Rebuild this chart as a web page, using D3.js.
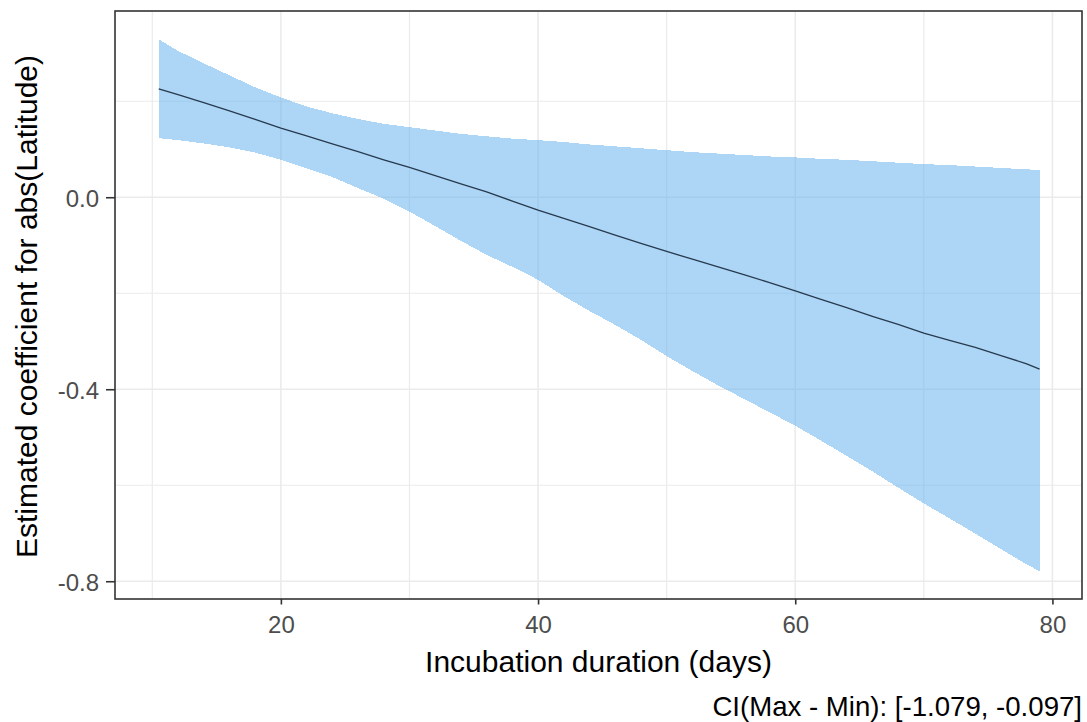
<!DOCTYPE html>
<html>
<head>
<meta charset="utf-8">
<script src="https://cdn.jsdelivr.net/npm/d3@7"></script>
<style>
  html, body { margin: 0; padding: 0; background: #ffffff; }
  svg { display: block; font-family: "Liberation Sans", Arial, sans-serif; }
</style>
</head>
<body>
<svg id="chart" width="1087" height="722"></svg>
<script>
// Incubation duration (days) at which the varying coefficient was evaluated
const days = [10.5, 12, 14, 16, 18, 20, 22, 24, 26, 28, 30, 32, 34, 36, 38, 40, 42, 44,
  46, 48, 50, 52, 54, 56, 58, 60, 62, 64, 66, 68, 70, 72, 74, 76, 78, 79];

// Point estimate of the abs(Latitude) coefficient
const estimate = [0.226, 0.214, 0.197, 0.180, 0.162, 0.144, 0.128, 0.111, 0.095, 0.078,
  0.062, 0.045, 0.028, 0.011, -0.008, -0.027, -0.044, -0.061, -0.079, -0.096, -0.113,
  -0.129, -0.145, -0.161, -0.178, -0.195, -0.213, -0.230, -0.248, -0.265, -0.283,
  -0.298, -0.313, -0.330, -0.347, -0.358];

// Upper and lower bounds of the confidence band
const upper = [0.329, 0.305, 0.279, 0.254, 0.229, 0.208, 0.189, 0.175, 0.163, 0.153,
  0.146, 0.139, 0.132, 0.127, 0.122, 0.119, 0.115, 0.110, 0.106, 0.102, 0.098, 0.094,
  0.091, 0.088, 0.085, 0.083, 0.080, 0.078, 0.075, 0.072, 0.069, 0.067, 0.064, 0.061,
  0.058, 0.057];
const lower = [0.123, 0.119, 0.112, 0.104, 0.093, 0.078, 0.060, 0.042, 0.019, -0.003,
  -0.030, -0.060, -0.091, -0.120, -0.145, -0.172, -0.206, -0.237, -0.266, -0.297, -0.331,
  -0.362, -0.392, -0.420, -0.448, -0.476, -0.507, -0.539, -0.571, -0.605, -0.638,
  -0.669, -0.701, -0.733, -0.765, -0.779];

// Axis limits, breaks and labels
const xLimits = [7.1, 82.3];
const yLimits = [-0.837, 0.388];
const xMajor = [20, 40, 60, 80];
const xMinor = [10, 30, 50, 70];
const yMajor = [-0.8, -0.4, 0.0];
const yMinor = [-0.6, -0.2, 0.2];
const yTickLabels = ["-0.8", "-0.4", "0.0"];

const xTitle = "Incubation duration (days)";
const yTitle = "Estimated coefficient for abs(Latitude)";
const caption = "CI(Max - Min): [-1.079, -0.097]";

const panel = { left: 115, right: 1082, top: 11, bottom: 599 };

const svg = d3.select("#chart");

const x = d3.scaleLinear().domain(xLimits).range([panel.left, panel.right]);
const y = d3.scaleLinear().domain(yLimits).range([panel.bottom, panel.top]);

const rows = days.map((d, i) => ({ d, est: estimate[i], lo: lower[i], hi: upper[i] }));

// Grid
const grid = svg.append("g");
grid.selectAll("line.xminor").data(xMinor).join("line")
  .attr("x1", d => x(d)).attr("x2", d => x(d))
  .attr("y1", panel.top).attr("y2", panel.bottom)
  .attr("stroke", "#ebebeb").attr("stroke-width", 1.2);
grid.selectAll("line.yminor").data(yMinor).join("line")
  .attr("y1", d => y(d)).attr("y2", d => y(d))
  .attr("x1", panel.left).attr("x2", panel.right)
  .attr("stroke", "#ebebeb").attr("stroke-width", 1.2);
grid.selectAll("line.xmajor").data(xMajor).join("line")
  .attr("x1", d => x(d)).attr("x2", d => x(d))
  .attr("y1", panel.top).attr("y2", panel.bottom)
  .attr("stroke", "#ebebeb").attr("stroke-width", 1.6);
grid.selectAll("line.ymajor").data(yMajor).join("line")
  .attr("y1", d => y(d)).attr("y2", d => y(d))
  .attr("x1", panel.left).attr("x2", panel.right)
  .attr("stroke", "#ebebeb").attr("stroke-width", 1.6);

// Confidence ribbon
const area = d3.area()
  .x(r => x(r.d))
  .y0(r => y(r.lo))
  .y1(r => y(r.hi));
svg.append("path")
  .datum(rows)
  .attr("d", area)
  .attr("fill", "#5cacee")
  .attr("fill-opacity", 0.5)
  .attr("shape-rendering", "crispEdges");

// Estimate line
const line = d3.line().x(r => x(r.d)).y(r => y(r.est));
svg.append("path")
  .datum(rows)
  .attr("d", line)
  .attr("fill", "none")
  .attr("stroke", "#263a4e")
  .attr("stroke-width", 1.3);

// Panel border
svg.append("rect")
  .attr("x", panel.left).attr("y", panel.top)
  .attr("width", panel.right - panel.left)
  .attr("height", panel.bottom - panel.top)
  .attr("fill", "none")
  .attr("stroke", "#333333")
  .attr("stroke-width", 1.6);

// Axes
const xAxis = d3.axisBottom(x)
  .tickValues(xMajor)
  .tickSize(5.5)
  .tickPadding(6)
  .tickFormat(d3.format("d"));
const gx = svg.append("g")
  .attr("transform", `translate(0,${panel.bottom})`)
  .call(xAxis);

const yAxis = d3.axisLeft(y)
  .tickValues(yMajor)
  .tickSize(9)
  .tickPadding(6)
  .tickFormat((d, i) => yTickLabels[i]);
const gy = svg.append("g")
  .attr("transform", `translate(${panel.left},0)`)
  .call(yAxis);

[gx, gy].forEach(g => {
  g.select(".domain").remove();
  g.selectAll(".tick line").attr("stroke", "#333333").attr("stroke-width", 1.6);
  g.selectAll(".tick text")
    .attr("fill", "#4d4d4d")
    .style("font-size", "24px")
    .style("font-family", "'Liberation Sans', Arial, sans-serif");
});
gx.selectAll(".tick text").attr("dy", null).attr("y", 34);
gy.selectAll(".tick text").attr("dy", "0.38em").attr("x", -16);

// Titles
svg.append("text")
  .attr("x", (panel.left + panel.right) / 2)
  .attr("y", 672)
  .attr("text-anchor", "middle")
  .style("font-size", "30px")
  .attr("fill", "#000000")
  .text(xTitle);

svg.append("text")
  .attr("transform", `translate(36.5,${(panel.top + panel.bottom) / 2 + 1.5}) rotate(-90)`)
  .attr("text-anchor", "middle")
  .style("font-size", "30px")
  .attr("fill", "#000000")
  .text(yTitle);

svg.append("text")
  .attr("x", panel.right)
  .attr("y", 716)
  .attr("text-anchor", "end")
  .style("font-size", "27.6px")
  .attr("fill", "#000000")
  .text(caption);
</script>
</body>
</html>
